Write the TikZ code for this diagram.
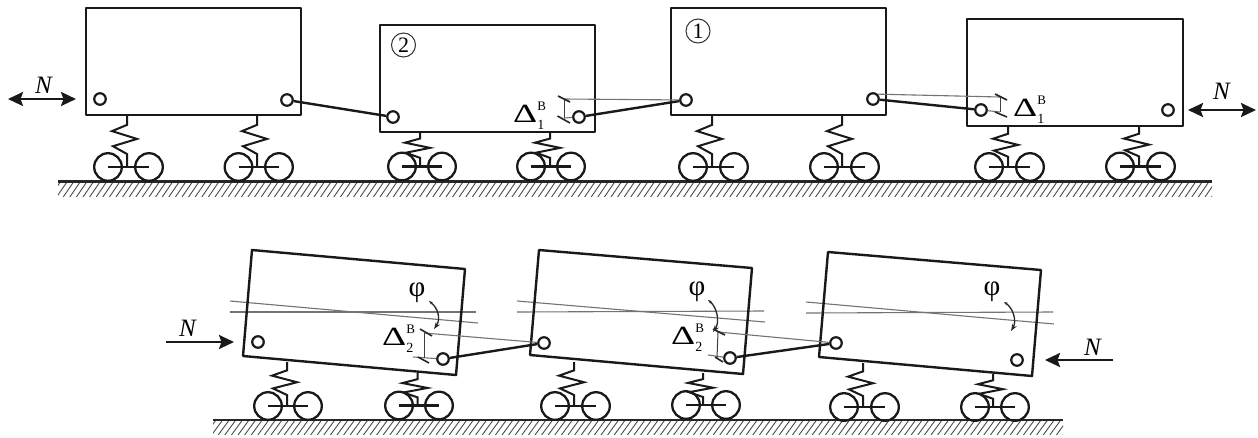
\documentclass[tikz,border=0pt]{standalone}
\usepackage{fontspec}
\setmainfont{Liberation Serif}
\usetikzlibrary{arrows.meta}
\tikzset{
  x=1pt,y=-1pt,
  carbody/.style={line width=2.4pt,line join=round,black!90},
  pin/.style={circle,draw=black!90,line width=2.2pt,fill=white,inner sep=0pt,minimum size=11.5pt},
  link/.style={line width=2.4pt,black!90},
  thinline/.style={line width=1.1pt,black!55},
  bracket/.style={line width=1pt,black!75},
  ticktab/.style={line width=1.6pt,black!85},
  groundline/.style={line width=2.2pt,black!85},
  hatchline/.style={line width=0.9pt,black!70},
  wheel/.style={line width=2.3pt,black!90},
  springline/.style={line width=2pt,line join=miter,black!90},
  force/.style={line width=2.4pt,black!90},
  forcetip/.style={-{Stealth[length=15pt,width=14pt,inset=2.5pt]}},
  bothtip/.style={{Stealth[length=15pt,width=14pt,inset=2.5pt]}-{Stealth[length=15pt,width=14pt,inset=2.5pt]}},
  rot/.style={line width=1.3pt,black!85,{Stealth[length=4pt,width=3pt]}-{Stealth[length=7pt,width=5pt]}},
  lab/.style={inner sep=0pt,font=\fontsize{25}{25}\selectfont},
  philab/.style={inner sep=0pt,font=\fontsize{29}{29}\selectfont},
  carmark/.style={circle,draw=black!80,line width=1pt,inner sep=0pt,minimum size=24pt,font=\fontsize{22}{22}\selectfont},
}
% spring x, top y, wheel 1 x, wheel 2 x, axle y
\newcommand{\bogie}[5]{%
  \draw[wheel] (#3,#5) circle (13.8);
  \draw[wheel] (#4,#5) circle (13.8);
  \draw[wheel] (#3,#5) -- (#4,#5);
  \pgfmathsetmacro{\ya}{#2+0.19*(#5-#2)}
  \pgfmathsetmacro{\yb}{#2+0.31*(#5-#2)}
  \pgfmathsetmacro{\yc}{#2+0.46*(#5-#2)}
  \pgfmathsetmacro{\yd}{#2+0.60*(#5-#2)}
  \pgfmathsetmacro{\ye}{#2+0.75*(#5-#2)}
  \draw[springline] (#1,#2) -- (#1,\ya) -- (#1-15,\yb) -- (#1+10,\yc) -- (#1-14,\yd) -- (#1,\ye) -- (#1,#5);
}
\newcommand{\dlabel}[1]{\scalebox{1.5}[1.05]{\fontsize{25}{25}\selectfont Δ}\rlap{\raisebox{12pt}{\fontsize{13}{13}\selectfont B}}\raisebox{-7pt}{\fontsize{14}{14}\selectfont #1}}
\begin{document}
\begin{tikzpicture}
\useasboundingbox[fill=white] (0,0) rectangle (1258,437);

% ---- grounds
\begin{scope}
  \clip (58,181) rectangle (1212,196);
  \foreach \i in {0,...,180} \draw[hatchline] ({50+6.6*\i},197) -- ({61+6.6*\i},181);
\end{scope}
\draw[groundline] (58,181.5) -- (1212,181.5);
\begin{scope}
  \clip (213,420) rectangle (1063,434);
  \foreach \i in {0,...,135} \draw[hatchline] ({205+6.6*\i},435) -- ({216+6.6*\i},420);
\end{scope}
\draw[groundline] (213,420) -- (1063,420);

% ---- top row bogies
\bogie{127}{115}{108}{149}{167}
\bogie{257}{115}{238.5}{279}{167}
\bogie{420}{132}{402}{442}{166.5}
\bogie{550}{132}{531}{571}{166.5}
\bogie{712}{115}{693}{734}{167}
\bogie{842}{115}{824}{865}{167}
\bogie{1008}{126}{989}{1030}{167}
\bogie{1139}{126}{1120}{1161}{166.5}

% ---- top row cars
\draw[carbody] (86,8) rectangle (301,115);
\draw[carbody] (380,25) rectangle (595,132);
\draw[carbody] (671,8) rectangle (886,115);
\draw[carbody] (967,19) rectangle (1183,126);

\node[carmark] (m2) at (403.5,45) {2};
\node[carmark] (m1) at (698,31) {1};

% ---- bottom row bogies
\bogie{287}{362}{268}{308}{406}
\bogie{417.5}{373}{399}{439}{405.5}
\bogie{574}{362}{555}{596}{406}
\bogie{703}{373}{686}{726}{405}
\bogie{863}{363}{844}{885}{407}
\bogie{993}{374}{975}{1015}{407}

% ---- bottom row reference lines
\draw[thinline] (230,312) -- (476,312);
\draw[thinline] (230,301) -- (478,323);
\draw[thinline] (517,312) -- (764,311);
\draw[thinline] (517,301) -- (765,322);
\draw[thinline] (806,313) -- (1053,312);
\draw[thinline] (806,302) -- (1054,324);

% ---- bottom row cars
\draw[carbody] (252,250) -- (465,269) -- (456,375) -- (243,356) -- cycle;
\draw[carbody] (539,250) -- (752,268) -- (743,374) -- (530,355) -- cycle;
\draw[carbody] (828,252) -- (1041,270) -- (1032,376) -- (819,357) -- cycle;

% ---- pins
\node[pin] (a1) at (100,99) {};
\node[pin] (a2) at (287,100) {};
\node[pin] (b1) at (393,117) {};
\node[pin] (b2) at (579,117) {};
\node[pin] (c1) at (686,100) {};
\node[pin] (c2) at (873,99) {};
\node[pin] (d1) at (981,110) {};
\node[pin] (d2) at (1168,110) {};
\node[pin] (e1) at (258,342) {};
\node[pin] (e2) at (443,359) {};
\node[pin] (f1) at (544,343) {};
\node[pin] (f2) at (730,358) {};
\node[pin] (g1) at (836,343) {};
\node[pin] (g2) at (1017,360) {};

% ---- links
\draw[link] (a2) -- (b1);
\draw[link] (b2) -- (c1);
\draw[link] (c2) -- (d1);
\draw[link] (e2) -- (f1);
\draw[link] (f2) -- (g1);

% ---- offset brackets, top row
\coordinate (t1) at (564,99);
\coordinate (t2) at (564,118);
\draw[thinline] (t1) -- (c1);
\draw[thinline] (t2) -- (b2);
\draw[bracket] (t1) -- (t2);
\draw[ticktab] (558,96) -- (570,102);
\draw[ticktab] (557.5,116) -- (570,123);
\coordinate (t3) at (1000,97);
\coordinate (t4) at (1000,112);
\draw[thinline] (c2.north east) -- (t3);
\draw[thinline] (d1) -- (t4);
\draw[bracket] (t3) -- (t4);
\draw[ticktab] (995,94) -- (1007,100);
\draw[ticktab] (995,112) -- (1007,117);

% ---- offset brackets, bottom row
\coordinate (u1) at (424,333);
\coordinate (u2) at (424,358);
\coordinate (u3) at (413,357);
\draw[thinline] (u1) -- (f1);
\draw[thinline] (u3) -- (e2);
\draw[bracket] (u1) -- (u2);
\draw[ticktab] (420,329) -- (432,336);
\draw[ticktab] (418,357) -- (429,363);
\coordinate (v1) at (718,332);
\coordinate (v2) at (717,358);
\coordinate (v3) at (708,355);
\draw[thinline] (v1) -- (g1);
\draw[thinline] (v3) -- (f2);
\draw[bracket] (v1) -- (v2);
\draw[ticktab] (713,329) -- (725,335);
\draw[ticktab] (715,357) -- (723,362);

% ---- rotation arcs
\draw[rot] (429,301) .. controls (438,308) and (441,319) .. (434,329);
\draw[rot] (708,300) .. controls (717,307) and (720,322) .. (713,332);
\draw[rot] (1004,302) .. controls (1013,308) and (1017,321) .. (1011,331);

% ---- labels
\node[philab] (p1) at (417,293) {φ};
\node[philab] (p2) at (697,292) {φ};
\node[philab] (p3) at (992,292) {φ};
\node[lab,anchor=west] (d11) at (513,116) {\dlabel{1}};
\node[lab,anchor=west] (d12) at (1013,110) {\dlabel{1}};
\node[lab,anchor=west] (d21) at (382,339) {\dlabel{2}};
\node[lab,anchor=west] (d22) at (671,338) {\dlabel{2}};

% ---- forces
\coordinate (n1a) at (8,99); \coordinate (n1b) at (76,99);
\draw[force,bothtip] (n1a) -- (n1b);
\node[lab] (n1) at (44,85) {\textit{N}};
\coordinate (n2a) at (1188,110); \coordinate (n2b) at (1256,110);
\draw[force,bothtip] (n2a) -- (n2b);
\node[lab] (n2) at (1222,91) {\textit{N}};
\coordinate (n3a) at (166,342); \coordinate (n3b) at (234,342);
\draw[force,forcetip] (n3a) -- (n3b);
\node[lab] (n3) at (188,328) {\textit{N}};
\coordinate (n4a) at (1113,360); \coordinate (n4b) at (1045,360);
\draw[force,forcetip] (n4a) -- (n4b);
\node[lab] (n4) at (1093,347) {\textit{N}};
\end{tikzpicture}
\end{document}
